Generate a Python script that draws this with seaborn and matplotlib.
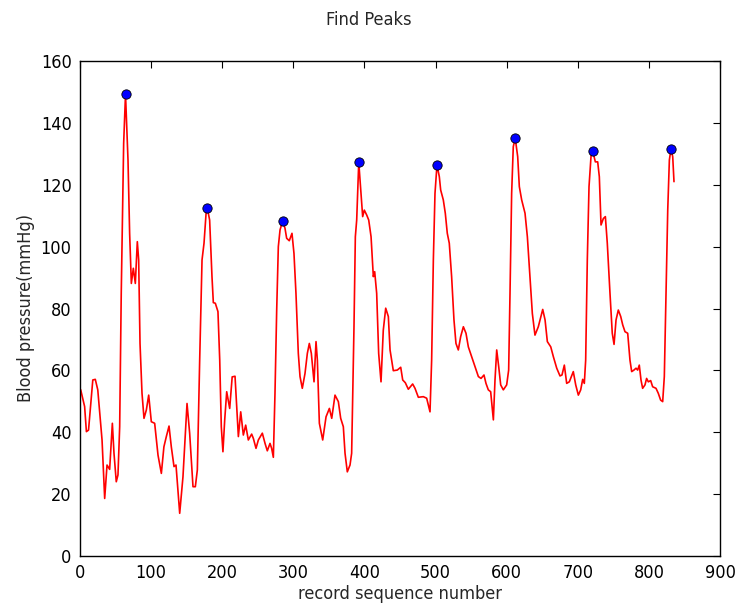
import matplotlib
matplotlib.use("Agg")
import matplotlib.pyplot as plt
from matplotlib import font_manager
import seaborn as sns
import pandas as pd

# record sequence numbers and blood pressure readings
seq = [0, 1, 6.5, 9, 12, 18, 21.5, 25, 29, 31, 34.7, 38, 41.7, 45.5, 47.8, 51, 53.4, 55.8, 58, 61.4, 64,
       67.5, 69.8, 72.2, 75, 77.8, 80.6, 82.5, 84.4, 87.2, 90, 93.3, 96.6, 100.3, 105, 109.7, 114.4, 118,
       121.4, 125.2, 128.4, 132.2, 135, 140.2, 144.8, 150.5, 154.2, 158.9, 162.2, 165, 168.3, 171.6, 174.4,
       177.6, 179, 182.3, 185.6, 187.5, 190.3, 194, 196.5, 198.7, 201, 203.5, 206.3, 210.5, 214, 218,
       222.7, 226, 229.7, 233, 236.7, 241.4, 243.8, 247.5, 250.8, 256.4, 260.2, 263.4, 267.2, 269.5, 271.9,
       274.2, 276.6, 278.9, 281.3, 285, 288.3, 290.6, 294.3, 298.1, 300.9, 303.7, 307, 309.4, 312.6, 316.4,
       319.7, 322.5, 325.3, 329.1, 331.9, 333.8, 336.6, 341.3, 346, 350.7, 354, 358.6, 363.3, 366.6, 370.3,
       372.7, 375.9, 379.7, 382, 385.3, 387.2, 389.1, 392, 395.2, 397.5, 399.8, 403.2, 406, 409.3, 412.5,
       414.4, 417.2, 420, 423.3, 426.5, 429.9, 433.6, 436, 440.6, 446.2, 451, 453.8, 457.5, 461.7, 467.8,
       471.1, 475.8, 482.8, 487.5, 492.2, 494.5, 496.9, 499.2, 502, 505.3, 507.2, 510.9, 513.7, 516.5,
       519.3, 522.6, 525.9, 528.7, 532, 535.3, 539.1, 542.8, 546.1, 550.8, 555.5, 560.2, 563.9, 568.1,
       570.9, 574.2, 577.5, 581.3, 583.6, 586, 588.8, 591.6, 595.3, 600, 602.8, 604.7, 607, 609.3, 612,
       615.5, 617.8, 621.1, 625.8, 629.1, 632.8, 636.1, 639.8, 644.5, 650.7, 654, 657.2, 662, 665.7, 670.4,
       675, 677.8, 681.1, 684.4, 688.1, 693.7, 697.1, 700.8, 704.1, 706.9, 709.2, 711.1, 713.4, 715.8,
       718.6, 721, 724.7, 728, 730.3, 732.7, 736, 738.8, 741.5, 745.3, 748.5, 751, 753.8, 757, 760.4,
       763.2, 766.4, 770.2, 773.4, 775.8, 779, 781.9, 784.2, 786.5, 788.9, 791.2, 794.5, 796.8, 799.2,
       802.5, 805.3, 810, 813.2, 816.5, 819.4, 821.7, 824.1, 826.5, 828.8, 831, 833.5, 835.3]
pressure = [54, 53.7, 48.3, 40.2, 40.7, 56.9, 57.1, 53.7, 42.9, 37.5, 18.6, 29.4, 28, 42.9, 33.2, 24, 26.2,
            41.8, 84.9, 133.4, 149.3, 128, 104.3, 88.1, 93, 88.1, 101.6, 95.7, 68.7, 52.6, 44.5, 47.2, 52,
            43.4, 42.9, 32.6, 26.7, 35.3, 38.6, 42, 35.3, 28.9, 29.4, 13.8, 25.6, 49.3, 39.7, 22.4, 22.4,
            27.8, 63.3, 95.7, 101.1, 111.8, 112.5, 108.6, 90.3, 81.9, 81.7, 79, 63.3, 41.8, 33.7, 44, 53.1,
            47.7, 57.9, 58.1, 38.6, 46.6, 39.1, 42.3, 37.5, 39.4, 38, 34.8, 37.5, 39.7, 36.4, 34, 36.4, 34.8,
            31.9, 52.6, 79.5, 100, 105.4, 108.3, 105.9, 102.7, 101.9, 104.3, 97.8, 84.9, 65.5, 58, 54.2, 59,
            65.5, 68.7, 65.5, 56.3, 69.3, 63.3, 42.9, 37.5, 45, 47.7, 44.5, 52, 49.9, 44.5, 41.8, 33.2, 27.2,
            29.4, 33.2, 74.1, 103.2, 108.6, 127.3, 117.2, 109.7, 111.8, 110.2, 108.6, 103.2, 90.3, 91.9,
            84.9, 65.5, 56.3, 73, 80.1, 77.4, 66.6, 59.9, 60.1, 61, 56.9, 56, 53.9, 55.6, 54.2, 51.3, 51.5,
            51, 46.6, 63.3, 95.7, 117.2, 126.4, 122.6, 118.3, 115.1, 110.8, 104.3, 101.1, 90.3, 76.3, 68.7,
            66.6, 70.9, 74.1, 72, 67.6, 64.4, 61.2, 58, 57.4, 58.5, 55.8, 53.7, 53.1, 44, 56.9, 66.6, 61.2,
            55.3, 53.7, 55.3, 60.1, 84.9, 117.2, 132.3, 135.1, 129.1, 119.4, 115.1, 110.8, 103.2, 90.3, 78.4,
            71.4, 74.1, 79.7, 76.3, 69.3, 67.6, 64.4, 60.7, 58.2, 58.5, 61.7, 55.8, 56.3, 59.6, 55.3, 52,
            53.7, 57.1, 55.8, 63.3, 95.7, 119.4, 129.1, 130.9, 127.4, 127.4, 122.6, 107, 109.1, 109.7, 101.1,
            84.9, 72, 68.4, 76.3, 79.5, 77.4, 74.7, 72.5, 72, 63.3, 59.6, 60.1, 60.7, 60.1, 61.7, 56.9, 54.2,
            55.3, 57.4, 56.3, 56.7, 54.7, 54.2, 52.6, 50.4, 49.9, 58, 84.9, 111.8, 128, 131.5, 129.1, 121]

# detected peaks
peak_seq = [64, 179, 285, 392, 502, 612, 721, 831]
peak_pressure = [149.3, 112.5, 108.3, 127.3, 126.4, 135.1, 130.9, 131.5]

sns.set_style("white")
plt.rcParams["font.family"] = ["DejaVu Sans"]

# use a condensed face if one is installed
stretch = "normal"
names = {f.name for f in font_manager.fontManager.ttflist}
cond = [f for f in font_manager.fontManager.ttflist
        if f.name.startswith("DejaVu Sans") and "ondensed" in f.fname]
if cond:
    plt.rcParams["font.family"] = [cond[0].name, "DejaVu Sans"]
    stretch = "condensed"
plt.rcParams["font.stretch"] = stretch
fs = 13 if cond else 12

fig = plt.figure(figsize=(7.38, 6.05), dpi=100)
ax = fig.add_axes([80 / 738, 49 / 605, 640 / 738, 495 / 605])

line_df = pd.DataFrame({"seq": seq, "bp": pressure})
peak_df = pd.DataFrame({"seq": peak_seq, "bp": peak_pressure})

sns.lineplot(data=line_df, x="seq", y="bp", color="red", linewidth=1.2, ax=ax, sort=False)
sns.scatterplot(data=peak_df, x="seq", y="bp", color="blue", edgecolor="black", linewidth=0.6,
                s=45, ax=ax, zorder=3)

ax.set_xlim(0, 900)
ax.set_ylim(0, 160)
ax.set_xticks(range(0, 901, 100))
ax.set_yticks(range(0, 161, 20))
ax.tick_params(direction="in", top=True, right=True, length=5, width=0.8, labelsize=fs,
               colors="black", pad=6)
for sp in ax.spines.values():
    sp.set_color("black")
    sp.set_linewidth(1.0)
ax.set_xlabel("record sequence number", fontsize=fs, labelpad=2)
ax.set_ylabel("Blood pressure(mmHg)", fontsize=fs, labelpad=4)
fig.suptitle("Find Peaks", fontsize=fs, y=0.982)

fig.savefig("out.png", dpi=100)
